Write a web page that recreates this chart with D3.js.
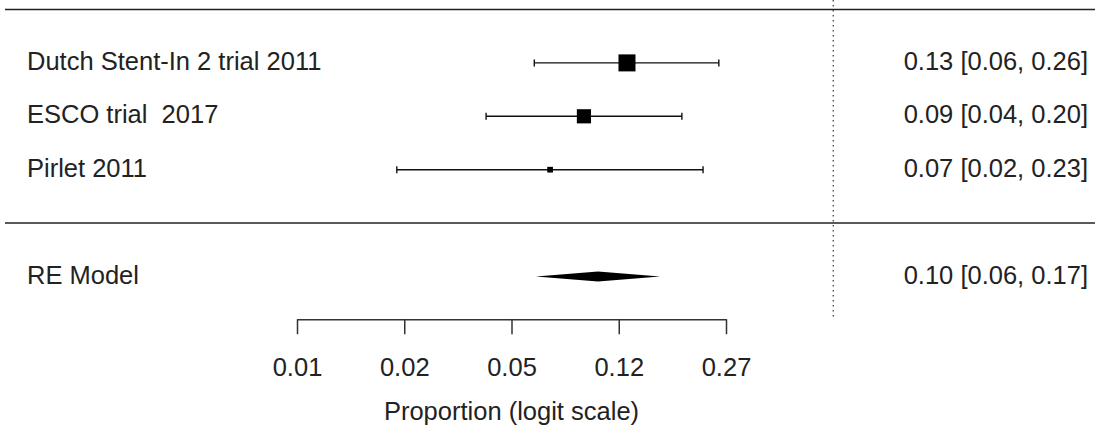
<!DOCTYPE html>
<html>
<head>
<meta charset="utf-8">
<script src="https://cdn.jsdelivr.net/npm/d3@7"></script>
<style>
  html, body { margin: 0; padding: 0; background: #fff; }
  svg text { font-family: "Liberation Sans", Arial, Helvetica, sans-serif; fill: #222; white-space: pre; }
</style>
</head>
<body>
<svg id="forest" width="1095" height="430"></svg>
<script>
// ---- data (proportions) ----
const studies   = ['Dutch Stent-In 2 trial 2011', 'ESCO trial  2017', 'Pirlet 2011'];
const estimates = [0.1275, 0.0891, 0.0666];
const lowers    = [0.0580, 0.0378, 0.0168];
const uppers    = [0.2560, 0.1960, 0.2290];
const weights   = [45, 38, 17];
const ciLabels  = ['0.13 [0.06, 0.26]', '0.09 [0.04, 0.20]', '0.07 [0.02, 0.23]'];

const pooled = {label: 'RE Model', est: 0.1004, lo: 0.0588, hi: 0.1660, text: '0.10 [0.06, 0.17]'};

const tickLogits = [-5, -4, -3, -2, -1];
const xTitle = 'Proportion (logit scale)';

// ---- scales ----
const logit  = p => Math.log(p / (1 - p));
const transf = v => 1 / (1 + Math.exp(-v));

const svg = d3.select('#forest');
const x = d3.scaleLinear().domain([-5, -1]).range([297, 726]);
const y = d3.scaleLinear().domain([4, -1]).range([9.5, 276.5]);
const size = d3.scaleLinear().domain(d3.extent(weights)).range([5.7, 17]);

const k = studies.length;
const rows = studies.map((s, i) => ({
  name: s, est: estimates[i], lo: lowers[i], hi: uppers[i], w: weights[i], txt: ciLabels[i], row: k - i
}));

const axisY = y(-1.8);
const fs = 25.5;

// horizontal rules
svg.selectAll('line.rule').data([k + 1, 0]).join('line')
  .attr('class', 'rule')
  .attr('x1', 5).attr('x2', 1095)
  .attr('y1', d => y(d)).attr('y2', d => y(d))
  .attr('stroke', '#222').attr('stroke-width', 1.5);

// reference line at logit 0
svg.append('line')
  .attr('x1', x(0)).attr('x2', x(0))
  .attr('y1', 0).attr('y2', axisY)
  .attr('stroke', '#333').attr('stroke-width', 1.2)
  .attr('stroke-dasharray', '1.5,3.5');

// CI lines
const g = svg.append('g');
g.selectAll('line.ci').data(rows).join('line')
  .attr('class', 'ci')
  .attr('x1', d => x(logit(d.lo))).attr('x2', d => x(logit(d.hi)))
  .attr('y1', d => y(d.row)).attr('y2', d => y(d.row))
  .attr('stroke', '#111').attr('stroke-width', 1.4);

// end caps
const caps = rows.flatMap(d => [{v: d.lo, row: d.row}, {v: d.hi, row: d.row}]);
g.selectAll('line.cap').data(caps).join('line')
  .attr('class', 'cap')
  .attr('x1', d => x(logit(d.v))).attr('x2', d => x(logit(d.v)))
  .attr('y1', d => y(d.row) - 3.5).attr('y2', d => y(d.row) + 3.5)
  .attr('stroke', '#111').attr('stroke-width', 1.4);

// squares
g.selectAll('rect.pt').data(rows).join('rect')
  .attr('class', 'pt')
  .attr('x', d => x(logit(d.est)) - size(d.w) / 2)
  .attr('y', d => y(d.row) - size(d.w) / 2)
  .attr('width', d => size(d.w)).attr('height', d => size(d.w))
  .attr('fill', '#000');

// pooled diamond
const py = y(-1);
svg.append('path')
  .attr('d', d3.line()([
    [x(logit(pooled.lo)), py], [x(logit(pooled.est)), py - 5],
    [x(logit(pooled.hi)), py], [x(logit(pooled.est)), py + 5]
  ]) + 'Z')
  .attr('fill', '#000');

// left labels
svg.selectAll('text.lab').data([...rows.map(d => ({t: d.name, row: d.row})), {t: pooled.label, row: -1}]).join('text')
  .attr('class', 'lab')
  .attr('x', 27).attr('y', d => y(d.row) + 7)
  .attr('font-size', fs)
  .text(d => d.t);

// right labels
svg.selectAll('text.est').data([...rows.map(d => ({t: d.txt, row: d.row})), {t: pooled.text, row: -1}]).join('text')
  .attr('class', 'est')
  .attr('x', 1088).attr('y', d => y(d.row) + 7)
  .attr('text-anchor', 'end')
  .attr('font-size', fs)
  .text(d => d.t);

// axis
const axis = d3.axisBottom(x)
  .tickValues(tickLogits)
  .tickSize(15)
  .tickPadding(24)
  .tickSizeOuter(0)
  .tickFormat(v => transf(v).toFixed(2));
const ax = svg.append('g').attr('transform', `translate(0,${axisY})`).call(axis);
ax.select('.domain').attr('stroke', '#333').attr('stroke-width', 1.5);
ax.selectAll('.tick line').attr('stroke', '#333').attr('stroke-width', 1.5);
ax.selectAll('.tick text')
  .attr('font-size', fs)
  .attr('font-family', '"Liberation Sans", Arial, sans-serif')
  .attr('fill', '#222');

svg.append('text')
  .attr('x', x(-3)).attr('y', 420)
  .attr('text-anchor', 'middle')
  .attr('font-size', fs)
  .text(xTitle);
</script>
</body>
</html>
